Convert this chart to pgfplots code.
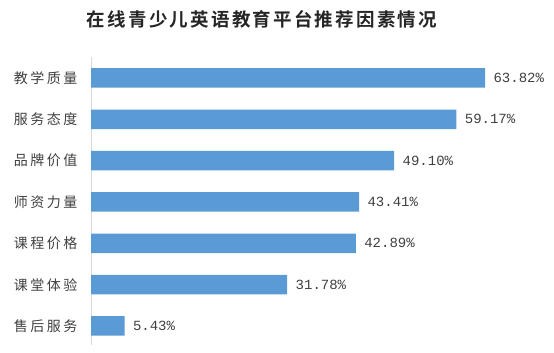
\documentclass[border=0pt]{standalone}
\usepackage{pgfplots}
\pgfplotsset{compat=1.18}
\usepackage{fontspec}
\setmainfont{Liberation Serif}
\newfontfamily\cjk[LetterSpace=18]{Noto Sans CJK SC}
\newfontfamily\cjktitle[LetterSpace=12]{Noto Sans CJK SC Bold}
\newfontfamily\numfont{Liberation Mono}
\definecolor{barblue}{HTML}{5B9BD5}
\definecolor{txt}{HTML}{404040}
\begin{document}
\begin{tikzpicture}
\useasboundingbox (0,0) rectangle (554bp,353bp);
\begin{axis}[
  at={(91bp,8.4bp)}, anchor=south west,
  scale only axis,
  width=460bp, height=287.3bp,
  xmin=0, xmax=74.5,
  ymin=-0.45, ymax=6.5,
  xbar, bar width=19.5bp,
  axis x line=none,
  axis y line*=left,
  y axis line style={draw=black!15, line width=0.8pt},
  ytick={0,1,2,3,4,5,6},
  yticklabels={售后服务,课堂体验,课程价格,师资力量,品牌价值,服务态度,教学质量},
  yticklabel style={font=\cjk\fontsize{14bp}{16bp}\selectfont, text=txt},
  major tick length=0pt,
  y tick label style={xshift=-10bp},
  /pgf/number format/assume math mode=true,
  nodes near coords={\pgfmathprintnumber[fixed,fixed zerofill,precision=2,assume math mode=true]{\pgfplotspointmeta}\%},
  nodes near coords style={font=\numfont\fontsize{14bp}{16bp}\selectfont, text=txt, anchor=west, xshift=5bp},
  point meta=explicit,
  clip=false,
]
\addplot[fill=barblue, draw=none] coordinates {
  (5.43,0) [5.43]
  (31.78,1) [31.78]
  (42.89,2) [42.89]
  (43.41,3) [43.41]
  (49.10,4) [49.10]
  (59.17,5) [59.17]
  (63.82,6) [63.82]
};
\end{axis}
\node[font=\cjktitle\fontsize{18.5bp}{22bp}\selectfont, text=black!85] at (262bp,334bp) {在线青少儿英语教育平台推荐因素情况};
\end{tikzpicture}
\end{document}
